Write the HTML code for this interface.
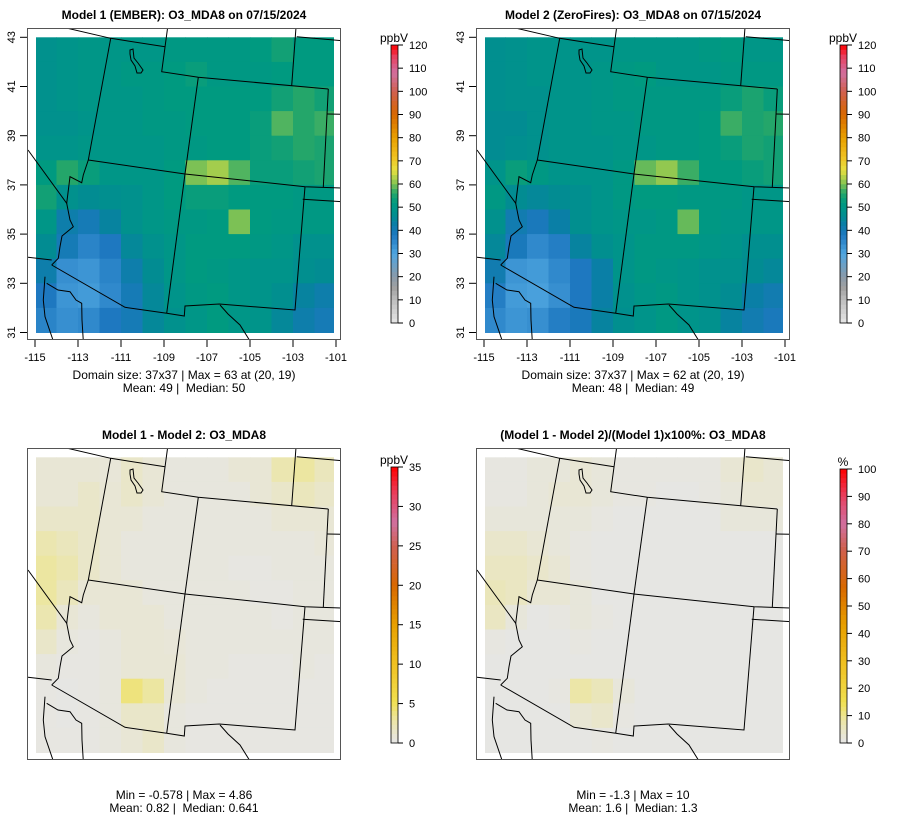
<!DOCTYPE html>
<html><head><meta charset="utf-8"><style>
html,body{margin:0;padding:0;background:#fff;}
svg{display:block;font-family:"Liberation Sans",sans-serif;}
text{white-space:pre;}
</style></head><body>
<svg id="chart" width="900" height="840" viewBox="0 0 900 840" xmlns="http://www.w3.org/2000/svg"></svg>
<script>
// ---- data (grid cells: rows lat 43->31, cols lon -115 -> -101, 1 degree) ----
const lonStart = -115;
const latStart = 43;
const xTickLabels = ["-115","-113","-111","-109","-107","-105","-103","-101"];
const yTickLabels = ["43","41","39","37","35","33","31"];
const ozoneTicks = [0,10,20,30,40,50,60,70,80,90,100,110,120];
const diffTicks = [0,5,10,15,20,25,30,35];
const pctTicks = [0,10,20,30,40,50,60,70,80,90,100];
const model1 = [
[48,49,50,50,50,50,51,51,51,51,52,54,52,52],
[48,49,50,50,51,51,52,53,51,51,51,52,52,52],
[48,49,50,50,50,51,52,52,52,52,52,54,56,54],
[48,48,49,50,50,51,51,52,52,52,53,58,56,57],
[49,49,50,50,50,50,51,51,52,52,53,54,56,55],
[52,56,53,50,50,50,52,60,62,58,53,53,54,55],
[54,48,46,47,48,50,52,53,53,52,52,52,51,51],
[50,42,40,44,48,50,51,51,52,60,52,51,51,51],
[46,40,36,38,45,48,50,52,52,52,51,50,48,48],
[42,34,33,36,42,46,50,52,51,50,49,49,47,46],
[38,33,32,35,40,45,49,51,52,50,49,47,44,42],
[36,34,35,38,40,45,48,50,52,50,49,45,42,40]];
const model2 = [
[47,48,49,49,49,49,50,50,50,50,51,52,50,50],
[47,48,49,49,49,50,51,52,50,50,50,51,51,51],
[47,48,48,49,49,50,51,51,51,51,51,53,55,53],
[46,46,48,49,49,50,50,51,51,51,52,57,55,56],
[46,47,48,49,49,49,50,50,51,51,52,53,55,54],
[49,53,51,49,49,49,51,59,61,57,52,52,53,54],
[51,46,45,46,47,49,51,52,52,51,51,51,50,50],
[48,41,39,43,47,49,50,50,51,59,51,50,50,50],
[45,39,35,37,44,47,49,51,51,51,50,49,47,47],
[41,33,32,35,38,43,49,51,50,49,48,48,46,45],
[37,32,31,34,38,43,48,50,51,49,48,46,43,41],
[35,33,34,37,39,44,47,49,51,49,48,44,41,39]];
const diffVals = [
[1,1,1,0.8,1.5,1,0.5,0.5,0.5,1,1,2.5,3,2],
[1,1,1.5,1,1.5,1,0.5,0.5,0.5,0.5,1,1.5,2,1.5],
[1.5,1.5,1.5,1,1,0.5,0.5,0.5,0.5,0.5,0.5,1,1,1],
[2.5,2,1.5,1,0.5,0.5,0.5,0.5,0.5,0.5,0.5,0.5,0.5,0.8],
[3,2.5,1.5,1,0.5,0.5,0.5,0.5,0.5,0.3,0.3,0.5,0.5,0.5],
[3,2,1,1,1,0.5,0.5,0.5,0.5,0.5,0.3,0.3,0.5,0.5],
[2.5,1,0.5,1,1,1,0.5,0.5,0.5,0.5,0.5,0.3,0.5,0.5],
[1.5,0.5,0.3,0.5,1,1,0.8,0.5,0.5,0.5,0.5,0.5,0.5,0.5],
[0.5,0.3,0.3,0.5,1,1,1,0.5,0.5,0.3,0.3,0.3,0.5,0.3],
[0.3,0.2,0.3,0.5,4,3,1,0.5,0.3,0.3,0.3,0.3,0.3,0.3],
[0.3,0.2,0.3,0.5,1.5,1.5,0.5,0.3,0.3,0.3,0.3,0.3,0.3,0.3],
[0.3,0.3,0.3,0.5,1,1.5,0.5,0.3,0.3,0.3,0.3,0.3,0.3,0.3]];
const pctVals = [
[1,1,2,2,3,2,1,1,1,1,1,3,4,3],
[1,1,2,3,3,2,1,1,0.5,0.5,1,2,3,3],
[2,2,2,2,2,1,0.5,0.5,0.5,0.5,0.5,2,2,2],
[4,4,3,2,1,0.5,0.5,0.5,0.5,0.5,0.5,0.5,0.5,0.5],
[5,5,4,3,1,0.5,0.5,0.5,0.5,0.5,0.5,0.5,0.5,0.5],
[6,5,3,3,2,0.5,0.5,0.5,0.5,0.5,0.5,0.5,0.5,0.5],
[5,2,0.5,1,2,1,0.5,0.5,0.5,0.5,0.5,0.5,0.5,0.5],
[1,0.5,0.5,0.5,1,0.5,0.5,0.5,0.5,0.5,0.5,0.5,0.5,0.5],
[0.5,0.5,0.5,0.5,0.5,0.5,0.5,0.5,0.5,0.5,0.5,0.5,0.5,0.5],
[0.5,0.5,0.5,1,8,6,2,0.5,0.5,0.5,0.5,0.5,0.5,0.5],
[0.5,0.5,0.5,0.5,3,4,1,0.5,0.5,0.5,0.5,0.5,0.5,0.5],
[0.5,0.5,0.5,0.5,0.5,1,0.5,0.5,0.5,0.5,0.5,0.5,0.5,0.5]];

// ---- styling ----
const NS = "http://www.w3.org/2000/svg";
const svg = document.getElementById('chart');
function mk(tag, attrs, parent){ const e=document.createElementNS(NS,tag); for(const k in attrs) e.setAttribute(k,attrs[k]); (parent||svg).appendChild(e); return e; }
const ozStops = [[0,"#e6e6e6"],[10,"#bebebe"],[15,"#a2a2a2"],[20,"#8a9aaa"],[30,"#4fa6e0"],[38,"#1e78c0"],[43,"#0a7fa6"],[46,"#028c92"],[49,"#00948a"],[52,"#009a80"],[56,"#24a66a"],[61,"#92c850"],[66,"#e8e040"],[72,"#f0c020"],[80,"#e8a000"],[90,"#d86800"],[100,"#d06050"],[108,"#d070a0"],[115,"#e84060"],[120,"#ff0000"]];
const dfStops = [[0,"#e6e6e6"],[0.03,"#e8e6d4"],[0.08,"#ece6a8"],[0.15,"#f0e050"],[0.29,"#f0c020"],[0.43,"#e8a000"],[0.57,"#d86800"],[0.71,"#d06050"],[0.8,"#d070a0"],[0.9,"#e84060"],[1,"#ff0000"]];
function hex(c){return [parseInt(c.substr(1,2),16),parseInt(c.substr(3,2),16),parseInt(c.substr(5,2),16)];}
function interp(stops,v){
  if(v<=stops[0][0]) return stops[0][1];
  for(let i=1;i<stops.length;i++){ if(v<=stops[i][0]){ const a=stops[i-1],b=stops[i]; const t=(v-a[0])/(b[0]-a[0]); const A=hex(a[1]),B=hex(b[1]); return "rgb("+A.map((x,j)=>Math.round(x+(B[j]-x)*t)).join(",")+")"; } }
  return stops[stops.length-1][1];
}
const ozColor = v=>interp(ozStops,v);
const diffColor = v=>interp(dfStops,v/35);
const pctColor = v=>interp(dfStops,v/100);

// axis functions (relative to panel origin)
const xScale = lon => 35 + (lon + 115) * 21.5;
const yScale = lat => 37.3 + (43 - lat) * 24.6;

// borders in panel pixel coordinates (map outlines, not data)
const borders = [
 [[62,27],[110.7,38.3],[165,46.7]],
 [[167.7,27],[161.7,71.7],[198.3,77.3],[328.3,89]],
 [[110.7,38.3],[88.3,160]],
 [[198.3,77.3],[185,174]],
 [[88.3,160],[185,174],[305,186.7],[342,188]],
 [[328.3,89],[323.3,187.3]],
 [[327.3,114],[342,114.3]],
 [[296,27.3],[291.7,85.7]],
 [[296.7,36.7],[342,40.7]],
 [[305,186.7],[295,310],[219.3,304],[185,306],[184.3,316],[166.7,313.3]],
 [[302.7,199.3],[342,201.7]],
 [[185,174],[166.7,313.3]],
 [[166.7,313.3],[125,307.3],[51.7,265]],
 [[28,150],[66.7,203.3],[70,176.7],[81.7,182.7],[83.3,175],[88.3,160]],
 [[66.7,203.3],[70,220],[73.3,226.7],[62,236],[60,246.7],[58.3,258.3],[51.7,265]],
 [[28,257.3],[51.7,260]],
 [[45,276.7],[43.3,300],[45,316.7],[53.3,341]],
 [[46.7,283.3],[58,290],[70,291.7],[76,300],[81.7,303.3],[82,320],[83.3,341]],
 [[220,305],[228,314],[240,325],[250,341]]
];
const lake = [[130,50],[133,49],[134,58],[138,63],[143,70],[141,73],[137,73],[135,66],[131,60],[130,54]];

function drawPanel(cfg){
  const g = mk('g',{transform:`translate(${cfg.dx},${cfg.dy})`});
  
  
  const cid = 'clip-'+cfg.name;
  const defs = mk('defs',{},g);
  const cp = mk('clipPath',{id:cid},defs);
  mk('rect',{x:36,y:36,width:298,height:297},cp);
  const cp2 = mk('clipPath',{id:cid+'-b'},defs);
  mk('rect',{x:27,y:28,width:314,height:312},cp2);
  const cells = mk('g',{'clip-path':`url(#${cid})`},g);
  
  
  cfg.grid.forEach((row,r)=>row.forEach((v,c)=>{
    const x0=xScale(lonStart+c), x1=xScale(lonStart+c+1), y0=yScale(latStart-r), y1=yScale(latStart-r-1);
    const e = mk('rect',{x:x0,y:y0,width:x1-x0+0.5,height:y1-y0+0.5,fill:cfg.color(v)},cells);
    
    
  }));
  const bg = mk('g',{'clip-path':`url(#${cid}-b)`,fill:'none',stroke:'#000','stroke-width':1},g);
  
  
  borders.forEach(p=>mk('polyline',{points:p.map(q=>q.join(',')).join(' ')},bg));
  mk('polygon',{points:lake.map(q=>q.join(',')).join(' ')},bg);
  const box = mk('rect',{x:27.5,y:28.5,width:313,height:311,fill:'none',stroke:'#555','stroke-width':1},g);
  
  
  const t = mk('text',{x:184,y:19,'text-anchor':'middle','font-size':12,'font-weight':'bold'},g);
  t.textContent = cfg.title;
  
  
  if(cfg.axes){
    xTickLabels.forEach(l=>{ const x=xScale(+l);
      mk('line',{x1:x,x2:x,y1:340,y2:347,stroke:'#000'},g);
      const e=mk('text',{x:x,y:361,'text-anchor':'middle','font-size':11},g); e.textContent=l;
      
       });
    yTickLabels.forEach(l=>{ const y=yScale(+l);
      mk('line',{x1:20,x2:27,y1:y,y2:y,stroke:'#000'},g);
      const e=mk('text',{x:15,y:y,'text-anchor':'middle','font-size':11,transform:`rotate(-90 15 ${y})`},g); e.textContent=l;
      
       });
  }
  cfg.stats.forEach((s,i)=>{ const e=mk('text',{x:184,y:cfg.statY+i*13,'text-anchor':'middle','font-size':12},g); e.textContent=s;
    
     });
  // colorbar
  const cb = mk('g',{},g);
  
  
  const top=cfg.cbTop, bot=cfg.cbBot, max=cfg.ticks[cfg.ticks.length-1];
  const cy = v => bot - (v/max)*(bot-top);
  const N=60;
  for(let i=0;i<N;i++){ const v0=max*i/N, v1=max*(i+1)/N;
    mk('rect',{x:391,y:cy(v1),width:7,height:cy(v0)-cy(v1)+0.3,fill:cfg.color((v0+v1)/2)},cb); }
  mk('rect',{x:391,y:top,width:7,height:bot-top,fill:'none',stroke:'#000','stroke-width':0.8},cb);
  cfg.ticks.forEach(v=>{ const y=cy(v);
    mk('line',{x1:398,x2:403,y1:y,y2:y,stroke:'#000'},cb);
    const e=mk('text',{x:409,y:y+4,'font-size':11},cb); e.textContent=v;
    
     });
  const u=mk('text',{x:394,y:top-3,'text-anchor':'middle','font-size':12},cb); u.textContent=cfg.unit;
  
  
}

drawPanel({name:'panel-model1',dx:0,dy:0,grid:model1,color:ozColor,title:'Model 1 (EMBER): O3_MDA8 on 07/15/2024',axes:true,
  stats:['Domain size: 37x37 | Max = 63 at (20, 19)','Mean: 49 |  Median: 50'],statY:379,cbTop:45,cbBot:323,ticks:ozoneTicks,unit:'ppbV'});
drawPanel({name:'panel-model2',dx:449,dy:0,grid:model2,color:ozColor,title:'Model 2 (ZeroFires): O3_MDA8 on 07/15/2024',axes:true,
  stats:['Domain size: 37x37 | Max = 62 at (20, 19)','Mean: 48 |  Median: 49'],statY:379,cbTop:45,cbBot:323,ticks:ozoneTicks,unit:'ppbV'});
drawPanel({name:'panel-difference',dx:0,dy:420,grid:diffVals,color:diffColor,title:'Model 1 - Model 2: O3_MDA8',axes:false,
  stats:['Min = -0.578 | Max = 4.86','Mean: 0.82 |  Median: 0.641'],statY:379,cbTop:47,cbBot:323,ticks:diffTicks,unit:'ppbV'});
drawPanel({name:'panel-percent-difference',dx:449,dy:420,grid:pctVals,color:pctColor,title:'(Model 1 - Model 2)/(Model 1)x100%: O3_MDA8',axes:false,
  stats:['Min = -1.3 | Max = 10','Mean: 1.6 |  Median: 1.3'],statY:379,cbTop:49,cbBot:323,ticks:pctTicks,unit:'%'});
</script>
</body></html>
